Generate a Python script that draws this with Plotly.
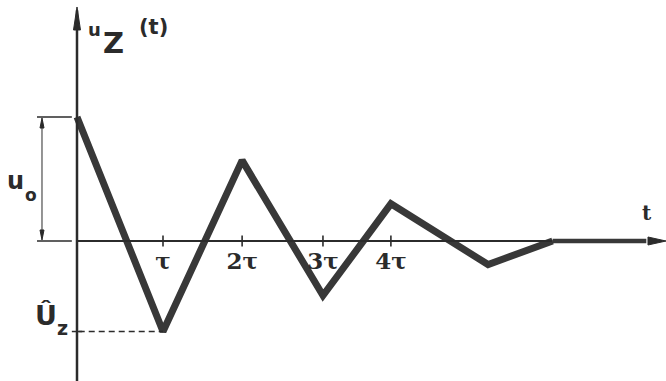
import plotly.graph_objects as go

# Damped triangular oscillation of u_Z(t), time in units of tau, voltage in units of u0
t_vertices = [0.0, 1.0, 1.92, 2.86, 3.65, 4.78, 5.53]
u_vertices = [1.0, -0.73, 0.65, -0.44, 0.30, -0.19, 0.0]

tick_pos = [1.0, 1.92, 2.86, 3.65]
tick_text = ["τ", "2τ", "3τ", "4τ"]

u_hat = min(u_vertices)

W, H = 666, 381
X_RANGE = [-0.8953, 6.8488]
Y_RANGE = [-1.129, 1.9435]
INK = "#2b2b2b"

# height of u = 0 as a fraction of the plot, used to hang the time axis labels there
zero_frac = (0 - Y_RANGE[0]) / (Y_RANGE[1] - Y_RANGE[0])

fig = go.Figure()

fig.add_trace(go.Scatter(
    x=t_vertices, y=u_vertices, mode="lines",
    line=dict(color="#383838", width=7),
    hoverinfo="skip", showlegend=False,
))

shapes = []


def seg(x0, y0, x1, y1, width, dash=None, color=INK):
    ln = dict(color=color, width=width)
    if dash:
        ln["dash"] = dash
    shapes.append(dict(type="line", xref="x", yref="y", x0=x0, x1=x1, y0=y0, y1=y1, line=ln))


def px_path(points, color=INK):
    # closed polygon given in pixel coordinates of the figure
    d = "M " + " L ".join(f"{x / W:.5f},{1 - y / H:.5f}" for x, y in points) + " Z"
    shapes.append(dict(type="path", xref="paper", yref="paper", path=d,
                       fillcolor=color, line=dict(color=color, width=1)))


# time axis, heavier where the decayed wave runs along it
seg(0, 0, t_vertices[-1], 0, 2.2)
seg(t_vertices[-1], 0, 6.62, 0, 4.5, color="#383838")
# vertical axis
seg(0, Y_RANGE[0], 0, 1.86, 2.5)
# tick marks on the time axis
for p in tick_pos:
    seg(p, -0.045, p, 0.045, 1.6)
# u0 dimension: extension lines and measuring line
for yv in (1.0, 0.0):
    seg(-0.465, yv, -0.06, yv, 1.5)
seg(-0.407, 0.03, -0.407, 0.97, 1)
# dashed marker for the negative peak
seg(0.02, u_hat, 1.0, u_hat, 1.5, dash="6px,4px")
seg(-0.06, u_hat, 0.06, u_hat, 1.5)

# arrowheads
px_path([(77, 7), (73.5, 30), (80.5, 30)])
px_path([(666, 241), (648, 237), (648, 245)])
px_path([(42, 118), (40, 128), (44, 128)])
px_path([(42, 240), (40, 230), (44, 230)])

annotations = []


def px_text(text, x, y, size, family="DejaVu Sans"):
    annotations.append(dict(text=text, x=x / W, y=1 - y / H, xref="paper", yref="paper",
                            showarrow=False, xanchor="center", yanchor="middle",
                            borderpad=0,
                            font=dict(size=size, color=INK, family=family, weight="bold")))


# vertical axis title u_Z (t)
px_text("u", 94, 30, 18)
px_text("Z", 113, 43, 29)
px_text("(t)", 153, 27, 21)
# time axis title
px_text("t", 647, 213, 20, family="DejaVu Serif")
# amplitude u_o
px_text("u", 15, 181, 24)
px_text("o", 31, 195, 17)
# negative peak Û_z
px_text("Û", 46, 315, 27)
px_text("z", 62, 328, 19)

fig.update_layout(
    width=W, height=H,
    margin=dict(l=0, r=0, t=0, b=0),
    paper_bgcolor="white", plot_bgcolor="white",
    xaxis=dict(
        range=X_RANGE, fixedrange=True,
        anchor="free", position=zero_frac,
        showline=False, showgrid=False, zeroline=False, ticks="",
        tickmode="array", tickvals=tick_pos, ticktext=tick_text,
        ticklabelstandoff=4,
        tickfont=dict(size=23, color=INK, family="DejaVu Serif", weight="bold"),
    ),
    yaxis=dict(range=Y_RANGE, visible=False, fixedrange=True),
    shapes=shapes, annotations=annotations,
    showlegend=False,
)

fig.write_html("out.html", config={"displayModeBar": False})
